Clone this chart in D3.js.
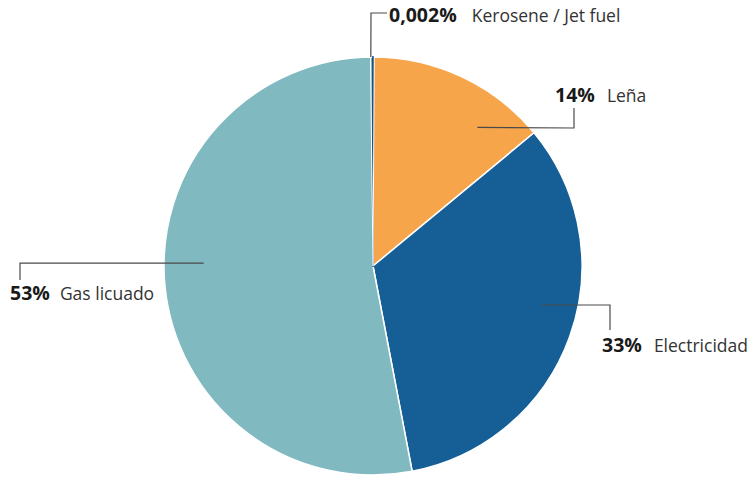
<!DOCTYPE html>
<html>
<head>
<meta charset="utf-8">
<script src="https://cdn.jsdelivr.net/npm/d3@7"></script>
<style>
  html, body { margin: 0; padding: 0; background: #fff; }
  svg text { font-family: "Open Sans", "Noto Sans", sans-serif; }
</style>
</head>
<body>
<svg id="chart" width="751" height="477"></svg>
<script>
// Household cooking fuel shares (%), clockwise from 12 o'clock
const categories = ["Leña", "Electricidad", "Gas licuado", "Kerosene / Jet fuel"];
const shares = [14, 33, 53, 0.002];
const shareLabels = ["14%", "33%", "53%", "0,002%"];
const colors = ["#F6A54B", "#155E96", "#80B9C0", "#1B4F80"];

// Label layout: leader start inside the pie (angle in degrees, radius fraction),
// the leader path's elbow and end, the text's left x / baseline, and the gap before the name
const labelLayout = [
  { angle: 37,   rFrac: 0.83, elbow: [574, 128], end: [574, 108], text: [555, 102], gap: 12 },
  { angle: 103,  rFrac: 0.83, elbow: [610, 305], end: [610, 330], text: [602, 352], gap: 12 },
  { angle: 271,  rFrac: 0.81, elbow: [20, 263],  end: [20, 280],  text: [10, 300],  gap: 10 },
  { angle: -0.6, rFrac: 1.0,  elbow: [371, 13],  end: [387, 13],  text: [389, 22],  gap: 15 }
];

const svg = d3.select("#chart");
const cx = 373, cy = 266, radius = 209;

const pie = d3.pie().sort(null).value(d => d.v);
const data = categories.map((c, i) => ({ c, v: shares[i], label: shareLabels[i], color: colors[i], i }));
const arcs = pie(data);
const arc = d3.arc().innerRadius(0).outerRadius(radius);

const g = svg.append("g").attr("transform", `translate(${cx},${cy})`);

g.selectAll("path.slice")
  .data(arcs)
  .join("path")
  .attr("class", "slice")
  .attr("d", arc)
  .attr("fill", d => d.data.color)
  .attr("stroke", d => d.data.v < 1 ? d.data.color : "#fff")
  .attr("stroke-width", d => d.data.v < 1 ? 2 : 1.5)
  .attr("stroke-linejoin", "round");

// white edges either side of the tiny slice so it reads as its own wedge
const tiny = arcs.find(a => a.data.v < 1);
[tiny.startAngle - 0.012, tiny.endAngle + 0.006].forEach(a => {
  g.append("line")
    .attr("x1", 0).attr("y1", 0)
    .attr("x2", radius * Math.sin(a)).attr("y2", -radius * Math.cos(a))
    .attr("stroke", "#fff").attr("stroke-width", 1);
});

// Leader lines and labels
const lines = svg.append("g");
const texts = svg.append("g");
data.forEach((d, i) => {
  const L = labelLayout[i];
  const a = L.angle * Math.PI / 180;
  const r = radius * L.rFrac;
  const sx = cx + r * Math.sin(a), sy = cy - r * Math.cos(a);
  lines.append("path")
    .attr("d", d3.line()([[sx, sy], L.elbow, L.end]))
    .attr("fill", "none")
    .attr("stroke", "#4a4a4a")
    .attr("stroke-width", 1.2);

  const t = texts.append("text")
    .attr("x", L.text[0]).attr("y", L.text[1]);
  t.append("tspan").attr("font-weight", 700).attr("font-size", 19.5)
    .attr("fill", "#1a1a1a").text(d.label);
  t.append("tspan").attr("dx", L.gap).attr("font-size", 17.5)
    .attr("fill", "#333").text(d.c);
});
</script>
</body>
</html>
